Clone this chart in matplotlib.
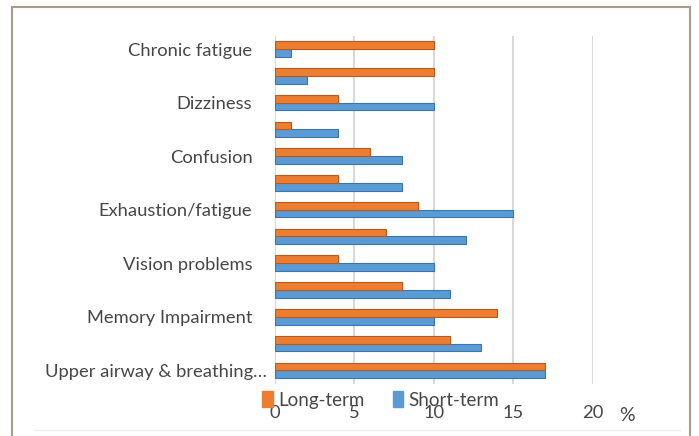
import matplotlib
matplotlib.use("Agg")
import matplotlib.pyplot as plt
from matplotlib.patches import Rectangle
from matplotlib.lines import Line2D
from matplotlib.transforms import ScaledTranslation
import numpy as np

# Categories listed bottom to top (Excel order); only every other one is labelled
categories = ["Upper airway & breathing\u2026", "", "Memory Impairment", "",
              "Vision problems", "", "Exhaustion/fatigue", "", "Confusion", "",
              "Dizziness", "", "Chronic fatigue"]
short_term = [17, 13, 10, 11, 10, 12, 15, 8, 8, 4, 10, 2, 1]
long_term = [17, 11, 14, 8, 4, 7, 9, 4, 6, 1, 4, 10, 10]
x_ticks = [0, 5, 10, 15, 20]

plt.rcParams["font.family"] = ["Lato", "DejaVu Sans"]
text_color = "#474747"
orange = "#ED7D31"
blue = "#5B9BD5"

fig = plt.figure(figsize=(6.99, 4.36), dpi=100)
ax = fig.add_axes([0.393, 0.12, 0.455, 0.798])

y = np.arange(len(categories))
h = 0.29
ax.barh(y - h / 2, short_term, height=h, color=blue, edgecolor="#3a75ad",
        linewidth=0.8, label="Short-term", zorder=3)
ax.barh(y + h / 2, long_term, height=h, color=orange, edgecolor="#b85a1c",
        linewidth=0.8, label="Long-term", zorder=3)

ax.set_xlim(0, 20)
ax.set_ylim(-0.5, len(categories) - 0.5)
ax.set_xticks(x_ticks)
ax.set_yticks(y)
ax.set_yticklabels(categories)
ax.tick_params(axis="y", length=0, pad=16, labelsize=13.2, labelcolor=text_color)
ax.tick_params(axis="x", length=0, pad=15, labelsize=13.2, labelcolor=text_color)
ax.xaxis.grid(True, color="#d9d9d9", linewidth=1.5, zorder=0)
for s in ax.spines.values():
    s.set_visible(False)

# the long first label sits a bit further right in the original
first = ax.get_yticklabels()[0]
first.set_transform(first.get_transform() + ScaledTranslation(0.14, 0, fig.dpi_scale_trans))

handles = [Rectangle((0, 0), 1, 1, color=orange), Rectangle((0, 0), 1, 1, color=blue)]
fig.legend(handles, ["Long-term", "Short-term"], loc="center",
           bbox_to_anchor=(381 / 699, 1 - 400 / 436), ncol=2, frameon=False,
           fontsize=13.5, labelcolor=text_color, handlelength=0.55, handleheight=0.9,
           handletextpad=0.3, columnspacing=1.5, borderpad=0)

fig.text(627 / 699, 1 - 415 / 436, "%", fontsize=14, color=text_color,
         ha="center", va="center")

# outer frame and faint bottom rule
fig.patches.append(Rectangle((12 / 699, -0.05), 678 / 699, 1 - 7 / 436 + 0.05,
                             transform=fig.transFigure, fill=False,
                             edgecolor="#ad9a88", linewidth=1.5))
fig.lines.append(Line2D([35 / 699, 680 / 699], [1 - 430 / 436] * 2,
                        transform=fig.transFigure, color="#ececec", linewidth=1))

fig.savefig("out.png", dpi=100)
